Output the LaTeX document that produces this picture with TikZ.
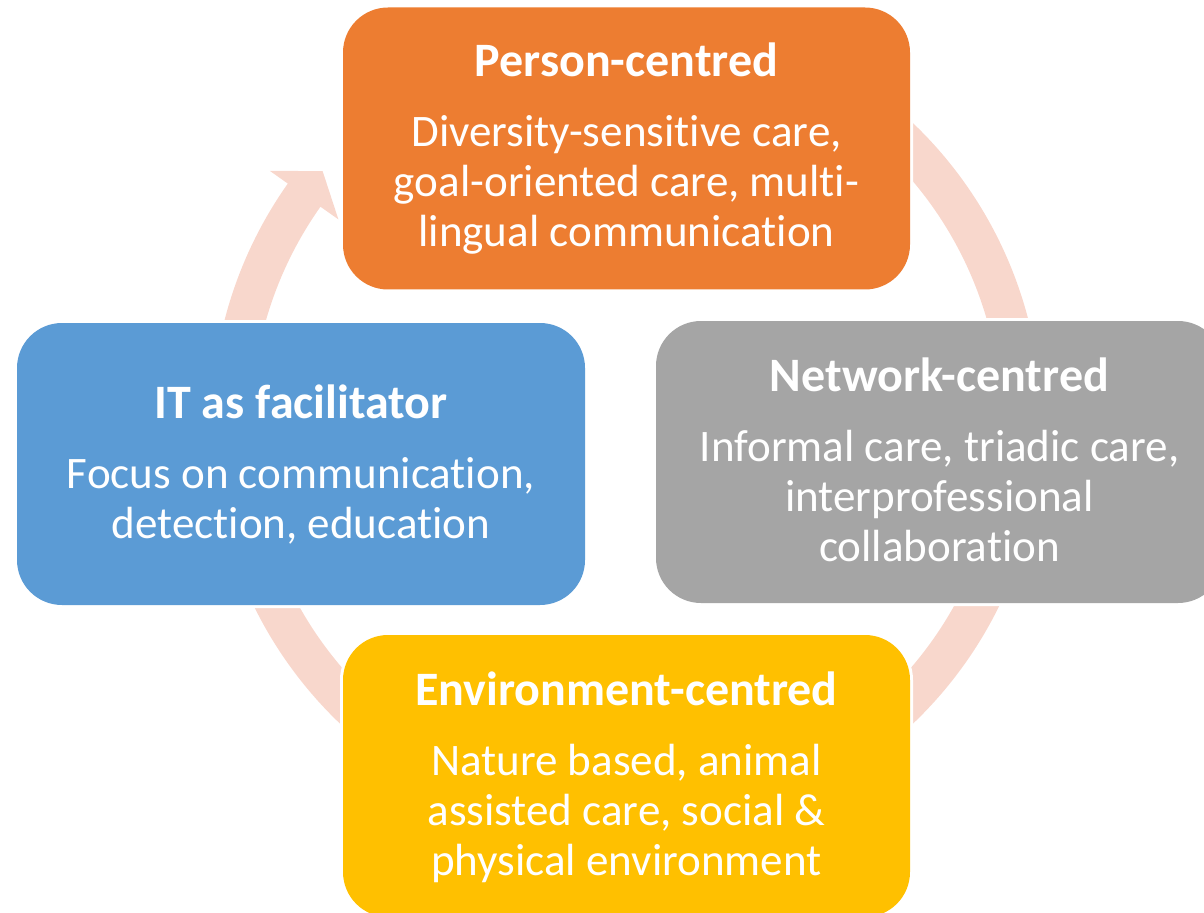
\documentclass[tikz,border=0pt]{standalone}
\usepackage{fontspec}
\setmainfont{Carlito}[Ligatures=NoCommon]
\newdimen\pxu \pxu=0.75pt
\definecolor{cOrange}{HTML}{ED7D31}
\definecolor{cGray}{HTML}{A5A5A5}
\definecolor{cBlue}{HTML}{5B9BD5}
\definecolor{cGold}{HTML}{FFC000}
\definecolor{cRing}{HTML}{F8D7CC}
\tikzset{
  box/.style={rounded corners=45\pxu, minimum width=567\pxu, minimum height=282\pxu,
    inner sep=0pt, preaction={draw=white, line width=4.5pt}},
  titletext/.style={anchor=base, inner sep=0pt, text=white, font=\bfseries\fontsize{36}{43}\selectfont},
  bodytext/.style={anchor=base, inner sep=0pt, text=white, font=\fontsize{33.8}{37.5}\selectfont},
  ring/.style={fill=cRing}
}
\begin{document}
\begin{tikzpicture}[x=0.75pt,y=-0.75pt]
\useasboundingbox (0,0) rectangle (1204,913);
\clip (0,0) rectangle (1204,913);
% cycle ring segments
\begin{scope}[shift={(626.5,423.4)}]
  \fill[ring] (300:375) arc[start angle=300, end angle=360, radius=375] -- (0:415) arc[start angle=360, end angle=300, radius=415] -- cycle;
  \fill[ring] (10:375) arc[start angle=10, end angle=70, radius=375] -- (70:415) arc[start angle=70, end angle=10, radius=415] -- cycle;
  \fill[ring] (110:375) arc[start angle=110, end angle=170, radius=375] -- (170:415) arc[start angle=170, end angle=110, radius=415] -- cycle;
  \fill[ring] (190:375) arc[start angle=190, end angle=215.3, radius=375] -- (215.3:353) -- (219.7:395) -- (215.3:437) -- (215.3:415) arc[start angle=215.3, end angle=190, radius=415] -- cycle;
\end{scope}
% boxes
\node[box, fill=cOrange] (person) at (626.5,148.5) {};
\node[box, fill=cGray] (network) at (939.5,462) {};
\node[box, fill=cBlue, minimum width=568\pxu] (it) at (301,464) {};
\node[box, fill=cGold] (env) at (626.5,776) {};
% texts
\node[titletext] (persontitle) at (626.5,77) {Person-centred};
\node[bodytext] (personbody) at (626.5,147) {\begin{tabular}[t]{@{}c@{}}Diversity-sensitive care,\\goal-oriented care, multi-\\lingual communication\end{tabular}};
\node[titletext] (networktitle) at (939.5,391) {Network-centred};
\node[bodytext] (networkbody) at (939.5,461.5) {\begin{tabular}[t]{@{}c@{}}Informal care, triadic care,\\interprofessional\\collaboration\end{tabular}};
\node[titletext] (ittitle) at (301,418.3) {IT as facilitator};
\node[bodytext] (itbody) at (301,488.3) {\begin{tabular}[t]{@{}c@{}}Focus on communication,\\detection, education\end{tabular}};
\node[titletext] (envtitle) at (626.5,705) {Environment-centred};
\node[bodytext] (envbody) at (626.5,775.7) {\begin{tabular}[t]{@{}c@{}}Nature based, animal\\assisted care, social \&\\physical environment\end{tabular}};
\end{tikzpicture}
\end{document}
